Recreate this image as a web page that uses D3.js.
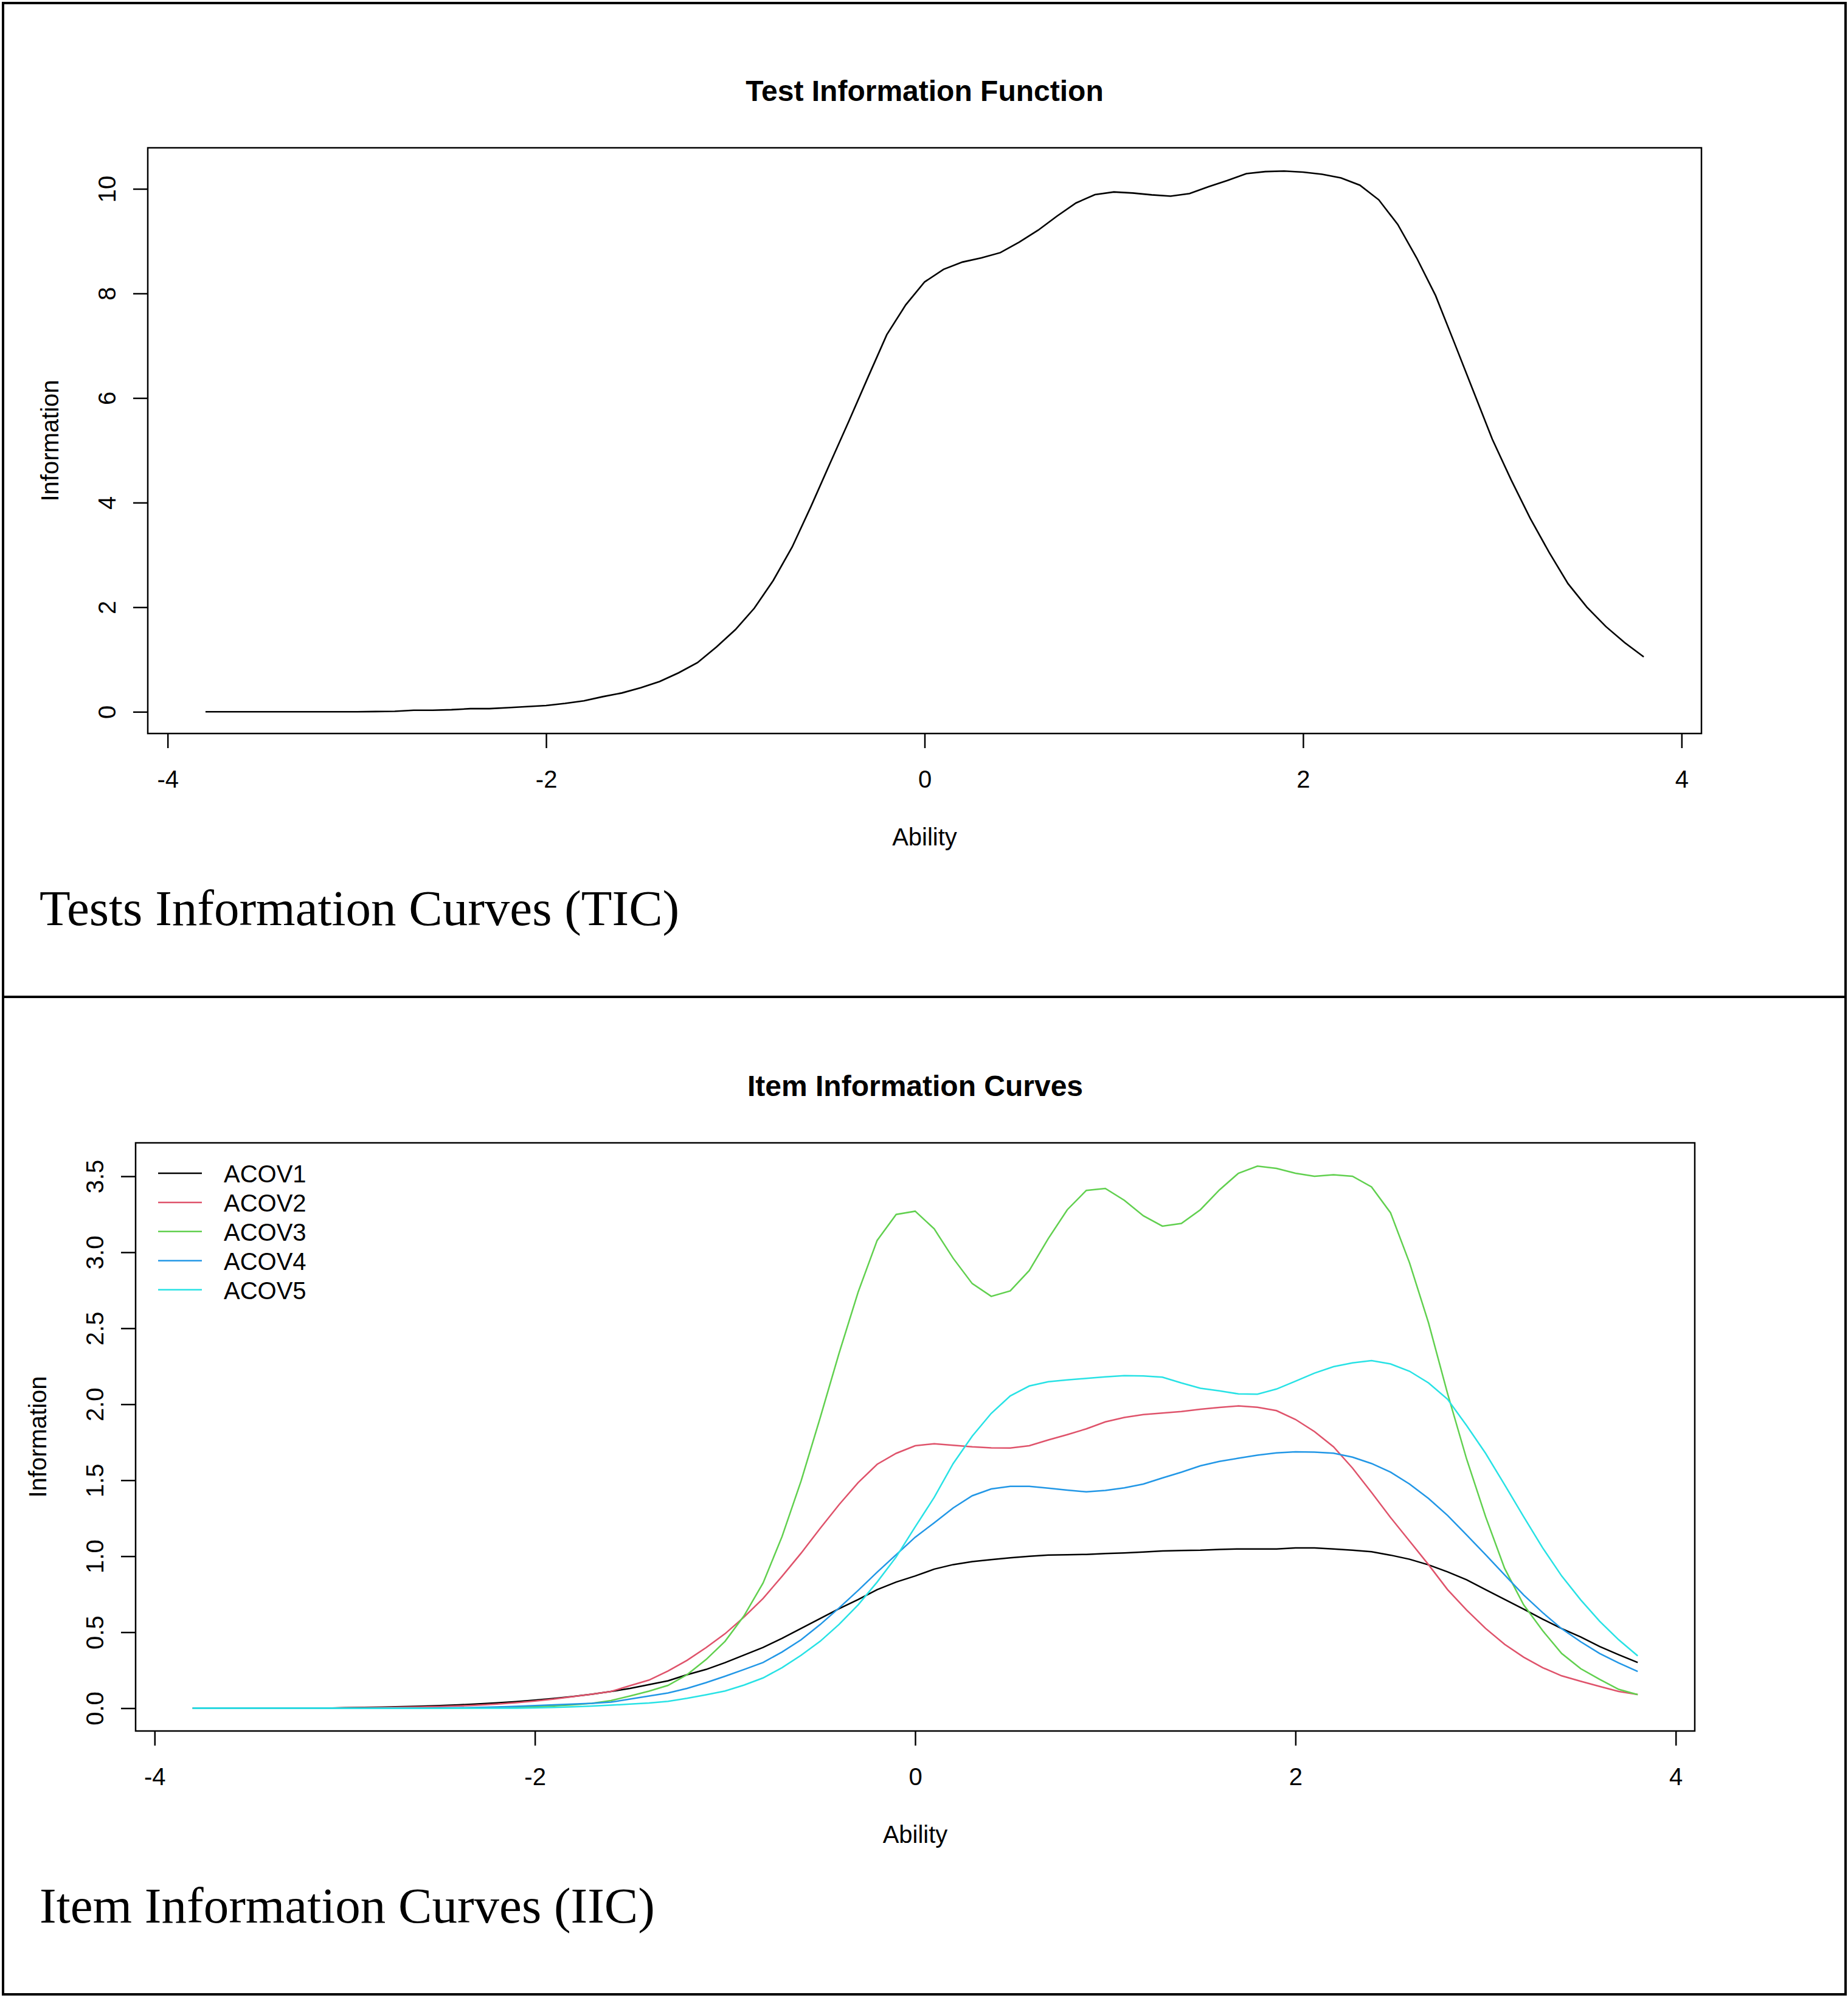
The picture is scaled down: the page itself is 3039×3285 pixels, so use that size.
<!DOCTYPE html>
<html>
<head>
<meta charset="utf-8">
<script src="https://cdn.jsdelivr.net/npm/d3@7"></script>
<style>
body { margin: 0; background: #fff; }
text { font-family: "Liberation Sans", Arial, sans-serif; fill: #000; }
</style>
</head>
<body>
<svg id="chart" width="3039" height="3285"></svg>
<script>
// ability grid used by both panels
var ability = [-3.8, -3.7, -3.6, -3.5, -3.4, -3.3, -3.2, -3.1, -3.0, -2.9, -2.8, -2.7, -2.6, -2.5, -2.4, -2.3, -2.2, -2.1, -2.0,
    -1.9, -1.8, -1.7, -1.6, -1.5, -1.4, -1.3, -1.2, -1.1, -1.0, -0.9, -0.8, -0.7, -0.6, -0.5, -0.4, -0.3, -0.2, -0.1,
    0.0, 0.1, 0.2, 0.3, 0.4, 0.5, 0.6, 0.7, 0.8, 0.9, 1.0, 1.1, 1.2, 1.3, 1.4, 1.5, 1.6, 1.7, 1.8, 1.9,
    2.0, 2.1, 2.2, 2.3, 2.4, 2.5, 2.6, 2.7, 2.8, 2.9, 3.0, 3.1, 3.2, 3.3, 3.4, 3.5, 3.6, 3.7, 3.8]

// test information function (top panel)
var testInfo = [0, 0, 0, 0, 0, 0, 0, 0, 0, 0.005, 0.01, 0.03, 0.03, 0.04, 0.06, 0.06, 0.08, 0.10, 0.12,
    0.16, 0.21, 0.29, 0.36, 0.46, 0.58, 0.745, 0.94, 1.24, 1.57, 1.98, 2.51, 3.15, 3.93, 4.75, 5.56, 6.39, 7.21, 7.78,
    8.22, 8.46, 8.60, 8.68, 8.78, 8.98, 9.21, 9.48, 9.73, 9.89, 9.94, 9.92, 9.885, 9.86, 9.91, 10.04, 10.16, 10.29, 10.33, 10.34,
    10.32, 10.28, 10.21, 10.07, 9.79, 9.32, 8.68, 7.96, 7.05, 6.13, 5.21, 4.43, 3.70, 3.05, 2.45, 2.00, 1.63, 1.32, 1.05]

// item information curves (bottom panel)
var acov1 = [0, 0, 0, 0, 0, 0, 0, 0, 0.003, 0.005, 0.007, 0.01, 0.013, 0.017, 0.022, 0.028, 0.035, 0.043, 0.053,
    0.064, 0.077, 0.092, 0.11, 0.13, 0.155, 0.18, 0.22, 0.255, 0.30, 0.35, 0.40, 0.46, 0.525, 0.59, 0.655, 0.715, 0.78, 0.83,
    0.87, 0.915, 0.945, 0.965, 0.978, 0.99, 1.0, 1.008, 1.01, 1.012, 1.018, 1.022, 1.028, 1.035, 1.038, 1.04, 1.045, 1.048, 1.048, 1.048,
    1.055, 1.055, 1.048, 1.04, 1.03, 1.007, 0.98, 0.943, 0.897, 0.845, 0.78, 0.716, 0.652, 0.586, 0.524, 0.469, 0.406, 0.352, 0.301]
var acov2 = [0, 0, 0, 0, 0, 0, 0, 0, 0.002, 0.003, 0.004, 0.006, 0.008, 0.011, 0.015, 0.02, 0.027, 0.036, 0.047,
    0.06, 0.076, 0.092, 0.11, 0.148, 0.185, 0.245, 0.315, 0.398, 0.49, 0.60, 0.722, 0.868, 1.02, 1.183, 1.34, 1.484, 1.605, 1.677,
    1.727, 1.74, 1.73, 1.72, 1.713, 1.712, 1.727, 1.765, 1.80, 1.838, 1.884, 1.913, 1.932, 1.942, 1.952, 1.967, 1.979, 1.989, 1.98, 1.958,
    1.90, 1.82, 1.72, 1.58, 1.42, 1.255, 1.10, 0.944, 0.78, 0.646, 0.525, 0.42, 0.336, 0.267, 0.213, 0.177, 0.143, 0.11, 0.09]
var acov3 = [0, 0, 0, 0, 0, 0, 0, 0, 0, 0, 0, 0, 0, 0, 0.001, 0.002, 0.004, 0.006, 0.01,
    0.015, 0.022, 0.032, 0.05, 0.08, 0.112, 0.15, 0.22, 0.32, 0.44, 0.608, 0.824, 1.13, 1.495, 1.91, 2.337, 2.738, 3.078, 3.249,
    3.27, 3.154, 2.96, 2.794, 2.71, 2.746, 2.88, 3.09, 3.28, 3.407, 3.42, 3.342, 3.24, 3.172, 3.19, 3.28, 3.41, 3.52, 3.567, 3.552,
    3.52, 3.50, 3.51, 3.50, 3.43, 3.26, 2.93, 2.535, 2.07, 1.64, 1.26, 0.92, 0.68, 0.51, 0.36, 0.26, 0.19, 0.124, 0.089]
var acov4 = [0, 0, 0, 0, 0, 0, 0, 0, 0, 0, 0, 0, 0, 0.002, 0.003, 0.005, 0.008, 0.012, 0.017,
    0.022, 0.027, 0.032, 0.04, 0.06, 0.08, 0.10, 0.13, 0.168, 0.21, 0.255, 0.301, 0.37, 0.45, 0.55, 0.66, 0.775, 0.895, 1.01,
    1.125, 1.22, 1.318, 1.398, 1.443, 1.46, 1.46, 1.448, 1.435, 1.424, 1.433, 1.45, 1.475, 1.515, 1.553, 1.595, 1.624, 1.645, 1.665, 1.68,
    1.687, 1.685, 1.678, 1.652, 1.61, 1.553, 1.475, 1.38, 1.268, 1.14, 1.01, 0.877, 0.745, 0.629, 0.523, 0.437, 0.36, 0.298, 0.242]
var acov5 = [0, 0, 0, 0, 0, 0, 0, 0, 0, 0, 0, 0, 0, 0, 0, 0, 0, 0, 0.002,
    0.005, 0.009, 0.014, 0.02, 0.027, 0.034, 0.045, 0.065, 0.088, 0.113, 0.152, 0.199, 0.267, 0.348, 0.44, 0.552, 0.68, 0.83, 0.995,
    1.193, 1.387, 1.61, 1.79, 1.94, 2.055, 2.12, 2.148, 2.16, 2.17, 2.18, 2.188, 2.186, 2.178, 2.14, 2.105, 2.088, 2.068, 2.066, 2.10,
    2.152, 2.205, 2.247, 2.272, 2.287, 2.265, 2.217, 2.14, 2.033, 1.86, 1.677, 1.47, 1.26, 1.055, 0.87, 0.713, 0.572, 0.45, 0.344]

var itemNames = ['ACOV1', 'ACOV2', 'ACOV3', 'ACOV4', 'ACOV5']
var itemColors = ['#000000', '#DF536B', '#61D04F', '#2297E6', '#28E2E5']
var items = [acov1, acov2, acov3, acov4, acov5]

var abilityTicks = [-4, -2, 0, 2, 4]
var tifTicks = [0, 2, 4, 6, 8, 10]
var iicTicks = [0, 0.5, 1, 1.5, 2, 2.5, 3, 3.5]

// plain hyphen for negatives, like R does
function plainInt(d) {
    return String(d)
}

var svg = d3.select('#chart')
svg.append('rect').attr('width', 3039).attr('height', 3285).attr('fill', '#fff')

// outer frame and panel divider
svg.append('rect')
    .attr('x', 5).attr('y', 5).attr('width', 3030).attr('height', 3274)
    .attr('fill', 'none').attr('stroke', '#000').attr('stroke-width', 4)
svg.append('line')
    .attr('x1', 5).attr('x2', 3035).attr('y1', 1639).attr('y2', 1639)
    .attr('stroke', '#000').attr('stroke-width', 4)

function drawFrame(box, x, y, yTicks, yFormat, title, caption, captionY) {
    var g = svg.append('g')

    g.append('text')
        .attr('x', (box.left + box.right) / 2)
        .attr('y', box.top - 77)
        .attr('text-anchor', 'middle')
        .style('font-size', '48px')
        .style('font-weight', 'bold')
        .text(title)

    var xAxis = g.append('g')
        .attr('transform', 'translate(0,' + box.bottom + ')')
        .call(d3.axisBottom(x).tickValues(abilityTicks).tickSize(24).tickSizeOuter(0).tickFormat(plainInt))
    xAxis.select('.domain').remove()
    xAxis.selectAll('line').attr('stroke-width', 2.5)
    xAxis.selectAll('text')
        .attr('y', 89).attr('dy', 0)
        .style('font-size', '40px')
        .style('font-family', '"Liberation Sans", Arial, sans-serif')

    var yAxis = g.append('g')
        .attr('transform', 'translate(' + box.left + ',0)')
        .call(d3.axisLeft(y).tickValues(yTicks).tickSize(24).tickSizeOuter(0).tickFormat(yFormat))
    yAxis.select('.domain').remove()
    yAxis.selectAll('line').attr('stroke-width', 2.5)
    yAxis.selectAll('text')
        .attr('x', 0).attr('dy', 0)
        .attr('text-anchor', 'middle')
        .attr('transform', 'translate(-53,0) rotate(-90)')
        .style('font-size', '40px')
        .style('font-family', '"Liberation Sans", Arial, sans-serif')

    g.append('rect')
        .attr('x', box.left).attr('y', box.top)
        .attr('width', box.right - box.left).attr('height', box.bottom - box.top)
        .attr('fill', 'none').attr('stroke', '#000').attr('stroke-width', 2.5)

    g.append('text')
        .attr('x', (box.left + box.right) / 2)
        .attr('y', box.bottom + 184)
        .attr('text-anchor', 'middle')
        .style('font-size', '40px')
        .text('Ability')

    g.append('text')
        .attr('text-anchor', 'middle')
        .attr('transform', 'translate(' + (box.left - 147) + ',' + ((box.top + box.bottom) / 2) + ') rotate(-90)')
        .style('font-size', '40px')
        .text('Information')

    g.append('text')
        .attr('x', 65)
        .attr('y', captionY)
        .style('font-family', '"Liberation Serif", "Times New Roman", serif')
        .style('font-size', '83px')
        .text(caption)
    return g
}

// top panel: test information function
var topBox = {left: 243, right: 2798, top: 243, bottom: 1206}
var xTop = d3.scaleLinear().domain([-4.105, 4.105]).range([topBox.left, topBox.right])
var yTop = d3.scaleLinear().domain([-0.415, 10.785]).range([topBox.bottom, topBox.top])
drawFrame(topBox, xTop, yTop, tifTicks, plainInt, 'Test Information Function', 'Tests Information Curves (TIC)', 1521)

svg.append('path')
    .datum(testInfo)
    .attr('fill', 'none')
    .attr('stroke', '#000')
    .attr('stroke-width', 2.6)
    .attr('d', d3.line()
        .x(function(d, i) { return xTop(ability[i]) })
        .y(function(d) { return yTop(d) }))

// bottom panel: item information curves
var botBox = {left: 223, right: 2787, top: 1879, bottom: 2846}
var xBot = d3.scaleLinear().domain([-4.1, 4.1]).range([botBox.left, botBox.right])
var yBot = d3.scaleLinear().domain([-0.15, 3.72]).range([botBox.bottom, botBox.top])
drawFrame(botBox, xBot, yBot, iicTicks, d3.format('.1f'), 'Item Information Curves', 'Item Information Curves (IIC)', 3161)

var itemLine = d3.line()
    .x(function(d, i) { return xBot(ability[i]) })
    .y(function(d) { return yBot(d) })

svg.append('g').selectAll('path')
    .data(items)
    .enter()
    .append('path')
    .attr('fill', 'none')
    .attr('stroke', function(d, i) { return itemColors[i] })
    .attr('stroke-width', 2.5)
    .attr('d', itemLine)

// legend, top-left inside the plot
var legend = svg.append('g')
    .attr('transform', 'translate(' + (botBox.left + 37) + ',' + (botBox.top + 50) + ')')
legend.selectAll('line')
    .data(itemNames)
    .enter()
    .append('line')
    .attr('x1', 0).attr('x2', 72)
    .attr('y1', function(d, i) { return i * 47.9 })
    .attr('y2', function(d, i) { return i * 47.9 })
    .attr('stroke', function(d, i) { return itemColors[i] })
    .attr('stroke-width', 2.5)
legend.selectAll('text')
    .data(itemNames)
    .enter()
    .append('text')
    .attr('x', 108)
    .attr('y', function(d, i) { return i * 47.9 + 15 })
    .style('font-size', '40px')
    .text(function(d) { return d })
</script>
</body>
</html>
